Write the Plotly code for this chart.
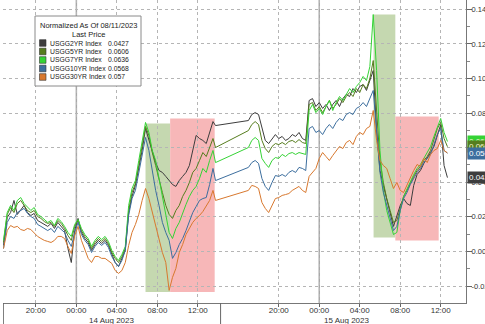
import pandas as pd
import plotly.graph_objects as go

# ---------------- data ----------------
seg1_times = (["2023-08-13 16:48"]
              + list(pd.date_range("2023-08-13 17:10", "2023-08-14 13:30", freq="20min").strftime("%Y-%m-%d %H:%M"))
              + ["2023-08-14 13:45"])
seg2_times = list(pd.date_range("2023-08-14 17:00", "2023-08-15 12:40", freq="20min").strftime("%Y-%m-%d %H:%M"))
times = seg1_times + seg2_times

usgg2yr = [
    0.0035, 0.0197, 0.0225, 0.0295, 0.0214, 0.0237, 0.0266, 0.0225, 0.0208, 0.0220,
    0.0179, 0.0168, 0.0156, 0.0145, 0.0162, 0.0133, 0.0168, 0.0145, 0.0121, 0.0017,
    -0.0064, 0.0121, 0.0191, 0.0110, 0.0075, 0.0052, 0.0006, 0.0040, 0.0064, 0.0046,
    0.0064, 0.0035, -0.0017, -0.0064, -0.0087, -0.0040, 0.0006, 0.0225, 0.0318, 0.0382,
    0.0480, 0.0584, 0.0711, 0.0642, 0.0572, 0.0514, 0.0468, 0.0457, 0.0434, 0.0410,
    0.0387, 0.0376, 0.0410, 0.0434, 0.0457, 0.0497, 0.0584, 0.0671, 0.0653, 0.0642,
    0.0624, 0.0688, 0.0751, 0.0728,
    0.0757, 0.0792, 0.0803, 0.0792, 0.0711, 0.0642, 0.0624, 0.0653, 0.0676, 0.0653,
    0.0665, 0.0642, 0.0653, 0.0676, 0.0665, 0.0688, 0.0653, 0.0642, 0.0873, 0.0884,
    0.0838, 0.0861, 0.0827, 0.0850, 0.0815, 0.0850, 0.0873, 0.0838, 0.0884, 0.0908,
    0.0896, 0.0942, 0.0919, 0.0954, 0.0965, 0.0931, 0.0988, 0.1046, 0.0699, 0.0468,
    0.0382, 0.0295, 0.0225, 0.0145, 0.0208, 0.0266, 0.0306, 0.0277, 0.0266, 0.0382,
    0.0445, 0.0468, 0.0509, 0.0538, 0.0572, 0.0607, 0.0665, 0.0734, 0.0497, 0.0427,
]
usgg5yr = [
    0.0052, 0.0214, 0.0254, 0.0225, 0.0277, 0.0295, 0.0266, 0.0237, 0.0225, 0.0237,
    0.0202, 0.0191, 0.0173, 0.0162, 0.0168, 0.0145, 0.0179, 0.0162, 0.0133, 0.0092,
    0.0064, 0.0145, 0.0179, 0.0121, 0.0087, 0.0064, 0.0017, 0.0052, 0.0075, 0.0058,
    0.0075, 0.0046, -0.0006, -0.0040, -0.0064, -0.0029, 0.0017, 0.0237, 0.0341, 0.0393,
    0.0497, 0.0613, 0.0723, 0.0671, 0.0572, 0.0497, 0.0410, 0.0341, 0.0266, 0.0214,
    0.0191, 0.0237, 0.0266, 0.0318, 0.0353, 0.0399, 0.0457, 0.0480, 0.0526, 0.0572,
    0.0549, 0.0607, 0.0653, 0.0601,
    0.0699, 0.0734, 0.0751, 0.0734, 0.0642, 0.0595, 0.0572, 0.0607, 0.0624, 0.0618,
    0.0630, 0.0618, 0.0636, 0.0642, 0.0630, 0.0647, 0.0630, 0.0624, 0.0850, 0.0861,
    0.0815, 0.0838, 0.0803, 0.0838, 0.0873, 0.0827, 0.0850, 0.0884, 0.0861, 0.0896,
    0.0919, 0.0896, 0.0942, 0.0919, 0.0965, 0.0942, 0.1000, 0.1104, 0.0815, 0.0526,
    0.0399, 0.0306, 0.0237, 0.0168, 0.0179, 0.0249, 0.0318, 0.0353, 0.0399, 0.0434,
    0.0468, 0.0491, 0.0526, 0.0549, 0.0584, 0.0642, 0.0711, 0.0746, 0.0653, 0.0606,
]
usgg7yr = [
    0.0064, 0.0225, 0.0266, 0.0237, 0.0295, 0.0312, 0.0277, 0.0254, 0.0237, 0.0254,
    0.0214, 0.0202, 0.0185, 0.0168, 0.0179, 0.0150, 0.0191, 0.0173, 0.0145, 0.0110,
    0.0087, 0.0156, 0.0185, 0.0133, 0.0098, 0.0075, 0.0029, 0.0064, 0.0087, 0.0069,
    0.0087, 0.0058, 0.0006, -0.0029, -0.0052, -0.0017, 0.0029, 0.0266, 0.0364, 0.0410,
    0.0526, 0.0642, 0.0746, 0.0688, 0.0584, 0.0526, 0.0422, 0.0324, 0.0208, 0.0110,
    0.0075, 0.0133, 0.0168, 0.0225, 0.0272, 0.0318, 0.0353, 0.0376, 0.0422, 0.0480,
    0.0457, 0.0526, 0.0584, 0.0514,
    0.0601, 0.0642, 0.0659, 0.0642, 0.0538, 0.0509, 0.0486, 0.0526, 0.0543, 0.0538,
    0.0561, 0.0549, 0.0566, 0.0572, 0.0561, 0.0572, 0.0566, 0.0561, 0.0815, 0.0850,
    0.0803, 0.0827, 0.0792, 0.0838, 0.0873, 0.0815, 0.0861, 0.0896, 0.0873, 0.0908,
    0.0942, 0.0919, 0.0954, 0.0977, 0.1012, 0.0988, 0.1069, 0.1370, 0.1046, 0.0584,
    0.0353, 0.0237, 0.0168, 0.0098, 0.0110, 0.0237, 0.0318, 0.0364, 0.0399, 0.0445,
    0.0480, 0.0503, 0.0538, 0.0572, 0.0607, 0.0665, 0.0723, 0.0769, 0.0688, 0.0636,
]
usgg10yr = [
    0.0017, 0.0168, 0.0202, 0.0191, 0.0225, 0.0237, 0.0249, 0.0220, 0.0202, 0.0191,
    0.0156, 0.0145, 0.0133, 0.0121, 0.0133, 0.0110, 0.0145, 0.0127, 0.0110, 0.0064,
    0.0029, 0.0110, 0.0168, 0.0098, 0.0064, 0.0040, -0.0006, 0.0029, 0.0052, 0.0035,
    0.0052, 0.0023, -0.0029, -0.0064, -0.0087, -0.0052, 0.0006, 0.0208, 0.0306, 0.0353,
    0.0457, 0.0572, 0.0659, 0.0584, 0.0468, 0.0353, 0.0266, 0.0168, 0.0110, 0.0064,
    -0.0040, -0.0006, 0.0040, 0.0075, 0.0121, 0.0179, 0.0225, 0.0260, 0.0295, 0.0306,
    0.0312, 0.0387, 0.0480, 0.0410,
    0.0486, 0.0514, 0.0526, 0.0509, 0.0422, 0.0376, 0.0353, 0.0399, 0.0439, 0.0434,
    0.0445, 0.0434, 0.0457, 0.0468, 0.0457, 0.0486, 0.0480, 0.0468, 0.0711, 0.0723,
    0.0688, 0.0699, 0.0676, 0.0711, 0.0734, 0.0711, 0.0746, 0.0769, 0.0757, 0.0792,
    0.0803, 0.0792, 0.0827, 0.0838, 0.0861, 0.0838, 0.0884, 0.0931, 0.0699, 0.0457,
    0.0341, 0.0266, 0.0191, 0.0121, 0.0145, 0.0237, 0.0306, 0.0341, 0.0387, 0.0422,
    0.0457, 0.0480, 0.0514, 0.0538, 0.0561, 0.0618, 0.0676, 0.0711, 0.0584, 0.0568,
]
usgg30yr = [
    0.0017, 0.0121, 0.0150, 0.0139, 0.0145, 0.0127, 0.0121, 0.0133, 0.0127, 0.0104,
    0.0087, 0.0075, 0.0064, 0.0058, 0.0052, 0.0064, 0.0087, 0.0087, 0.0075, 0.0029,
    -0.0012, 0.0092, 0.0145, 0.0064, 0.0006, -0.0040, -0.0064, -0.0029, -0.0029, -0.0040,
    -0.0040, -0.0052, -0.0069, -0.0110, -0.0127, -0.0110, -0.0064, 0.0035, 0.0110, 0.0156,
    0.0214, 0.0295, 0.0364, 0.0306, 0.0225, 0.0145, 0.0064, -0.0006, -0.0064, -0.0225,
    -0.0150, -0.0098, -0.0006, 0.0040, 0.0098, 0.0133, 0.0168, 0.0191, 0.0208, 0.0231,
    0.0260, 0.0295, 0.0353, 0.0295,
    0.0353, 0.0382, 0.0376, 0.0364, 0.0283, 0.0249, 0.0225, 0.0266, 0.0306, 0.0312,
    0.0324, 0.0329, 0.0335, 0.0353, 0.0364, 0.0376, 0.0353, 0.0341, 0.0434, 0.0457,
    0.0480, 0.0538, 0.0572, 0.0549, 0.0526, 0.0555, 0.0584, 0.0607, 0.0595, 0.0630,
    0.0642, 0.0618, 0.0665, 0.0688, 0.0676, 0.0711, 0.0723, 0.0815, 0.0642, 0.0526,
    0.0497, 0.0480, 0.0422, 0.0364, 0.0399, 0.0353, 0.0341, 0.0387, 0.0422, 0.0468,
    0.0503, 0.0491, 0.0538, 0.0514, 0.0561, 0.0584, 0.0595, 0.0642, 0.0584, 0.0570,
]

series_names = ["USGG2YR Index", "USGG5YR Index", "USGG7YR Index", "USGG10YR Index", "USGG30YR Index"]
series_values = [usgg2yr, usgg5yr, usgg7yr, usgg10yr, usgg30yr]
last_prices = ["0.0427", "0.0606", "0.0636", "0.0568", "0.057"]
colors = ["#3d3d3d", "#567d1e", "#35d335", "#3c6e9e", "#d8782e"]

# shaded move boxes
box_start = ["2023-08-14 06:50", "2023-08-14 09:16", "2023-08-15 05:22", "2023-08-15 07:31"]
box_end = ["2023-08-14 09:16", "2023-08-14 13:40", "2023-08-15 07:31", "2023-08-15 11:48"]
box_low = [-0.0235, -0.0235, 0.0081, 0.0064]
box_high = [0.0740, 0.0769, 0.1370, 0.0780]
box_kind = ["up", "down", "up", "down"]

tick_times = ["2023-08-13 20:00", "2023-08-14 00:00", "2023-08-14 04:00", "2023-08-14 08:00",
              "2023-08-14 12:00", "2023-08-14 20:00", "2023-08-15 00:00", "2023-08-15 04:00",
              "2023-08-15 08:00", "2023-08-15 12:00"]
tick_text = ["20:00", "00:00", "04:00", "08:00", "12:00", "20:00", "00:00", "04:00", "08:00", "12:00"]
day_lines = ["2023-08-14 00:00", "2023-08-15 00:00"]
day_labels = ["14 Aug 2023", "15 Aug 2023"]
day_label_pos = ["2023-08-14 03:30", "2023-08-15 02:40"]
session_marks = ["2023-08-13 16:47", "2023-08-14 14:15"]
y_ticks = [-0.02, 0.00, 0.02, 0.04, 0.06, 0.08, 0.10, 0.12, 0.14]
y_tick_text = ["-0.02", "0.00", "0.02", "0.04", "0.06", "0.08", "0.10", "0.12", "0.14"]

# ---------------- layout helpers ----------------
W, H = 485, 324
ML, MR, MT, MB = 3, 19, 0, 21
PW, PH = W - ML - MR, H - MT - MB
FONT = "Liberation Sans, Arial, sans-serif"


def px_x(x):
    return (x - ML) / PW


def px_y(y):
    return (PH + MT - y) / PH


fig = go.Figure()
for name, vals, col in zip(series_names, series_values, colors):
    assert len(vals) == len(times), (name, len(vals), len(times))
    fig.add_trace(go.Scatter(x=times, y=vals, mode="lines", name=name,
                             line=dict(color=col, width=1), showlegend=False,
                             hoverinfo="skip"))

shapes = []
for s, e, lo, hi, k in zip(box_start, box_end, box_low, box_high, box_kind):
    shapes.append(dict(type="rect", xref="x", yref="y", x0=s, x1=e, y0=lo, y1=hi,
                       fillcolor="#c5d8b0" if k == "up" else "#f7b7b8",
                       line=dict(width=0), layer="below"))
for d in day_lines:
    shapes.append(dict(type="line", xref="x", yref="paper", x0=d, x1=d, y0=0, y1=1,
                       line=dict(color="#a8a8a8", width=1.5), layer="below"))
for d in session_marks:
    shapes.append(dict(type="line", xref="x", yref="paper", x0=d, x1=d,
                       y0=0, y1=-0.075, line=dict(color="#666666", width=1)))

# legend box
shapes.append(dict(type="rect", xref="paper", yref="paper",
                   x0=px_x(35), x1=px_x(141), y0=px_y(86), y1=px_y(16),
                   fillcolor="white", line=dict(color="#8a8a8a", width=1), layer="above"))
annotations = []
for txt, yy in (("Normalized As Of 08/11/2023", 25), ("Last Price", 34)):
    annotations.append(dict(xref="paper", yref="paper", x=px_x(88), y=px_y(yy), text=txt,
                            showarrow=False, font=dict(family=FONT, size=7.5, color="#222222"),
                            xanchor="center", yanchor="middle"))
entry_y = [43, 51.5, 60, 68.5, 77]
for ey, name, lp, col in zip(entry_y, series_names, last_prices, colors):
    shapes.append(dict(type="rect", xref="paper", yref="paper",
                       x0=px_x(39.5), x1=px_x(46), y0=px_y(ey + 3.3), y1=px_y(ey - 3.3),
                       fillcolor=col, line=dict(color="#333333", width=0.6), layer="above"))
    annotations.append(dict(xref="paper", yref="paper", x=px_x(48), y=px_y(ey), text=name,
                            showarrow=False, font=dict(family=FONT, size=6.8, color="#222222"),
                            xanchor="left", yanchor="middle"))
    annotations.append(dict(xref="paper", yref="paper", x=px_x(106), y=px_y(ey), text=lp,
                            showarrow=False, font=dict(family=FONT, size=6.8, color="#222222"),
                            xanchor="left", yanchor="middle"))

# last value tags on the right
tag_order = [4, 2, 1, 3, 0]
for i in tag_order:
    annotations.append(dict(xref="paper", yref="y", x=1, y=series_values[i][-1],
                            text=f"{series_values[i][-1]:.4f}", showarrow=False,
                            xanchor="left", yanchor="middle", xshift=1,
                            font=dict(family=FONT, size=8, color="#f4f4d0" if i in (1, 2) else "white"),
                            bgcolor=colors[i], borderpad=1))

for lbl, pos in zip(day_labels, day_label_pos):
    annotations.append(dict(xref="x", yref="paper", x=pos, y=0, yshift=-11, text=lbl,
                            showarrow=False, xanchor="center", yanchor="top",
                            font=dict(family=FONT, size=8, color="#333333")))

fig.update_layout(
    width=W, height=H,
    margin=dict(l=ML, r=MR, t=MT, b=MB, pad=0, autoexpand=False),
    paper_bgcolor="white", plot_bgcolor="white",
    showlegend=False,
    shapes=shapes, annotations=annotations,
    font=dict(family=FONT, size=8, color="#333333"),
)
fig.update_xaxes(
    type="date", automargin=False,
    range=["2023-08-13 16:45", "2023-08-15 14:30"],
    tickmode="array", tickvals=tick_times, ticktext=tick_text,
    ticks="outside", ticklen=3, tickcolor="#666666",
    ticklabelstandoff=-4,
    tickfont=dict(family=FONT, size=8, color="#333333"),
    showgrid=True, gridcolor="#b5b5b5", griddash="dot", gridwidth=1,
    showline=True, linecolor="#777777", linewidth=1,
    zeroline=False,
)
fig.update_yaxes(
    side="right", automargin=False, range=[-0.0298, 0.1454],
    tickmode="array", tickvals=y_ticks, ticktext=y_tick_text,
    ticks="outside", ticklen=5, tickcolor="#666666",
    ticklabelstandoff=-2,
    tickfont=dict(family=FONT, size=7.5, color="#333333"),
    showgrid=True, gridcolor="#b5b5b5", griddash="dot", gridwidth=1,
    showline=True, linecolor="#777777", linewidth=1,
    zeroline=False,
    minor=dict(tickmode="array", tickvals=[-0.01, 0.01, 0.03, 0.05, 0.07, 0.09, 0.11, 0.13],
               ticks="outside", ticklen=3, tickcolor="#888888", showgrid=False),
)

fig.write_html("out.html")
